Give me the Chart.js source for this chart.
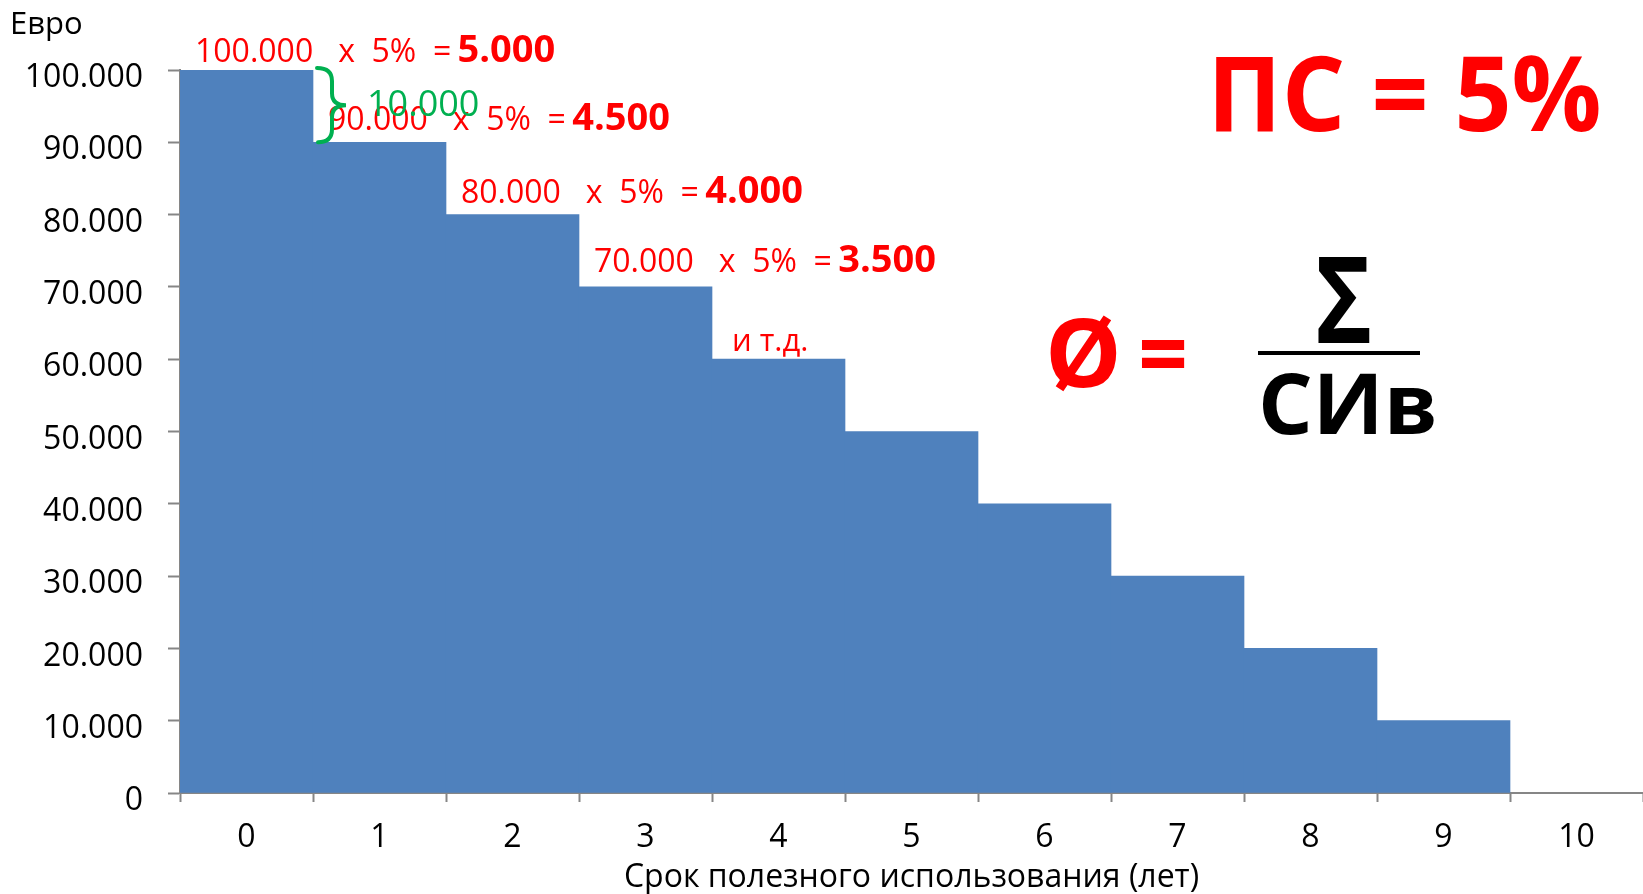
<!DOCTYPE html>
<html>
<head>
<meta charset="utf-8">
<script src="https://cdn.jsdelivr.net/npm/chart.js@4.4.1/dist/chart.umd.min.js"></script>
<style>
  html, body { margin: 0; padding: 0; background: #fff; }
  #wrap { width: 1643px; height: 894px; }
</style>
</head>
<body>
<div id="wrap"><canvas id="chart" width="1643" height="894"></canvas></div>
<script>
// data
const years = ['0', '1', '2', '3', '4', '5', '6', '7', '8', '9', '10'];
const bookValues = [100000, 90000, 80000, 70000, 60000, 50000, 40000, 30000, 20000, 10000, null];
const yMin = 0;
const yMax = 100000;
const yStep = 10000;
const rateLabel = '5%';
const rate = 0.05;
const shownSteps = 4;   // how many bars get the "x 5% =" note
const yUnit = 'Евро';
const xTitle = 'Срок полезного использования (лет)';

const BAR = '#4F81BD';
const AXIS = '#868686';
const RED = '#FF0000';
const GREEN = '#00B050';
const FONT = '"Open Sans", sans-serif';

function fmt(v) {
    return String(v).replace(/\B(?=(\d{3})+(?!\d))/g, '.');
}

// draw text so that its ink spans x1..x2
function fitText(ctx, text, x1, x2, base) {
    ctx.textAlign = 'left';
    const m = ctx.measureText(text);
    const L = m.actualBoundingBoxLeft, R = m.actualBoundingBoxRight;
    const s = (x2 - x1) / (L + R);
    ctx.save();
    ctx.translate(x1 + L * s, base);
    ctx.scale(s, 1);
    ctx.fillText(text, 0, 0);
    ctx.restore();
}

const notes = {
    id: 'notes',
    afterDatasetsDraw(chart) {
        const ctx = chart.ctx;
        const bars = chart.getDatasetMeta(0).data;
        ctx.save();
        ctx.textBaseline = 'alphabetic';
        ctx.textAlign = 'left';

        // unit label
        ctx.fillStyle = '#000';
        ctx.font = '31px ' + FONT;
        ctx.fillText(yUnit, 10, 34);

        // calculation lines above the first bars
        const lift = [8, 12, 12, 15];
        for (let i = 0; i < shownSteps; i++) {
            const b = bars[i];
            const x0 = b.x - b.width / 2 + 15;
            const y0 = b.y - lift[i];
            const head = fmt(bookValues[i]) + '   x  ' + rateLabel + '  = ';
            ctx.fillStyle = RED;
            ctx.font = '32px ' + FONT;
            ctx.fillText(head, x0, y0);
            const w = ctx.measureText(head).width;
            ctx.font = 'bold 38px ' + FONT;
            ctx.fillText(fmt(bookValues[i] * rate), x0 + w - 2, y0);
        }
        const b4 = bars[shownSteps];
        ctx.font = '31px ' + FONT;
        ctx.fillText('и т.д.', b4.x - b4.width / 2 + 20, b4.y - 8);

        // green brace between first two bar tops
        const r0 = bars[0].x + bars[0].width / 2;
        const yt = bars[0].y - 2, yb = bars[1].y, ym = (yt + yb) / 2;
        ctx.strokeStyle = GREEN;
        ctx.lineWidth = 4;
        ctx.lineCap = 'round';
        ctx.beginPath();
        ctx.moveTo(r0 + 4, yt);
        ctx.quadraticCurveTo(r0 + 19, yt, r0 + 19, yt + 13);
        ctx.lineTo(r0 + 19, ym - 12);
        ctx.quadraticCurveTo(r0 + 19, ym, r0 + 33, ym);
        ctx.quadraticCurveTo(r0 + 19, ym, r0 + 19, ym + 12);
        ctx.lineTo(r0 + 19, yb - 13);
        ctx.quadraticCurveTo(r0 + 19, yb, r0 + 5, yb);
        ctx.stroke();
        ctx.fillStyle = GREEN;
        ctx.font = '36px ' + FONT;
        ctx.fillText(fmt(bookValues[0] - bookValues[1]), r0 + 54, ym + 11);

        // formula block on the right
        ctx.fillStyle = RED;
        ctx.font = 'bold 104px ' + FONT;
        fitText(ctx, 'ПС = ' + rateLabel, 1216, 1599, 131);
        ctx.font = 'bold 95px ' + FONT;
        fitText(ctx, 'Ø', 1050, 1117, 387);
        fitText(ctx, '=', 1142, 1185, 387);
        ctx.fillStyle = '#000';
        ctx.font = 'bold 120px ' + FONT;
        fitText(ctx, 'Σ', 1318, 1370, 343);
        ctx.fillRect(1258, 351, 162, 4);
        ctx.font = 'bold 84px ' + FONT;
        fitText(ctx, 'СИв', 1262, 1434, 434);
        ctx.restore();
    }
};

new Chart(document.getElementById('chart'), {
    type: 'bar',
    data: {
        labels: years,
        datasets: [{
            data: bookValues,
            backgroundColor: BAR,
            borderWidth: 0,
            barPercentage: 1,
            categoryPercentage: 1
        }]
    },
    options: {
        responsive: false,
        animation: false,
        layout: { padding: { top: 70, right: -4, left: 0, bottom: 0 } },
        plugins: {
            legend: { display: false },
            tooltip: { enabled: false }
        },
        scales: {
            x: {
                afterFit(scale) { scale.height = 101; },
                grid: {
                    display: true,
                    drawOnChartArea: false,
                    drawTicks: true,
                    tickLength: 9,
                    tickColor: AXIS,
                    tickWidth: 2,
                    offset: true
                },
                border: { color: AXIS, width: 2 },
                ticks: {
                    color: '#000',
                    font: { family: FONT, size: 32, lineHeight: 1.2 },
                    padding: 17,
                    maxRotation: 0,
                    autoSkip: false
                },
                title: {
                    display: true,
                    text: xTitle,
                    color: '#000',
                    font: { family: FONT, size: 32, lineHeight: 1.0 },
                    padding: { top: 0, bottom: 0 }
                }
            },
            y: {
                min: yMin,
                max: yMax,
                afterFit(scale) { scale.width = 180; },
                grid: {
                    display: true,
                    drawOnChartArea: false,
                    drawTicks: true,
                    tickLength: 12,
                    tickColor: AXIS,
                    tickWidth: 2
                },
                border: { color: AXIS, width: 2 },
                ticks: {
                    stepSize: yStep,
                    color: '#000',
                    padding: 25,
                    labelOffset: 8,
                    font: { family: FONT, size: 32 },
                    callback: v => fmt(v)
                }
            }
        }
    },
    plugins: [notes]
});
</script>
</body>
</html>
